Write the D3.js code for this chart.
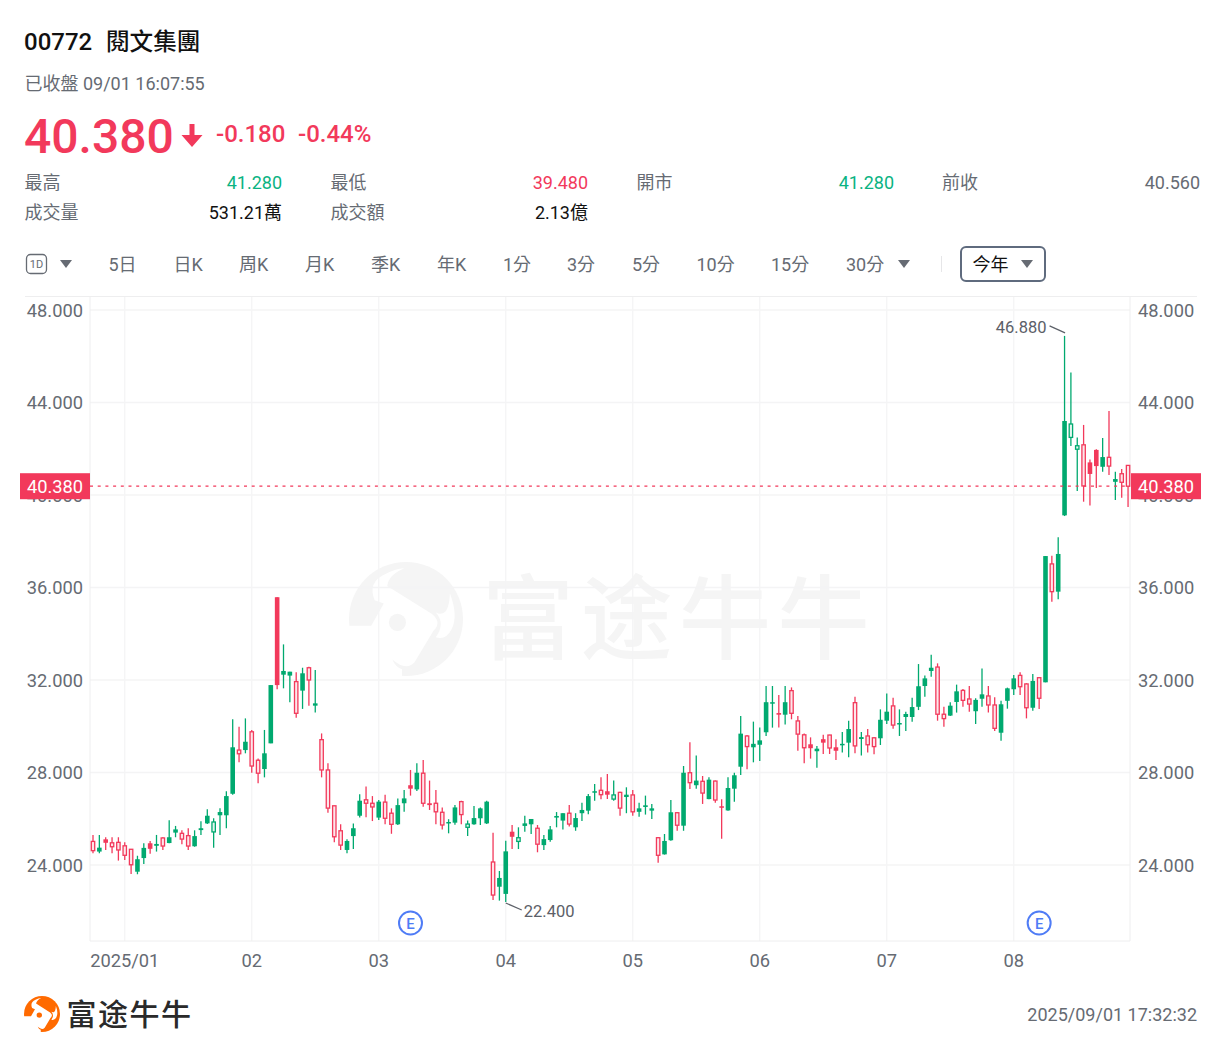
<!DOCTYPE html>
<html><head><meta charset="utf-8">
<script src="https://cdn.jsdelivr.net/npm/d3@7"></script>
<style>
html,body{margin:0;padding:0;background:#fff;overflow:hidden}
text{font-family:Roboto,"Noto Sans CJK TC","Noto Sans CJK SC",sans-serif}
</style></head><body><svg id="c" width="1221" height="1055"></svg>
<script>
// G/R = filled green/red, g/r = hollow green/red, one letter per session
const kinds = ["rGRrrrrGGR","GrGGrrGGGg","GGGrGrrGGR","GGrGrGrrrr","GGGrrGrrGG","RGrRrrGGrg","GGGrGGRgGG","rGGGGrGGGG","rRgrGrGGGr","GGrGrGrGrR","GGGrGGGGRG","rrrRGRrRGG","rGrrGGrGGG","GGGrrGGrrG","GrrGGGrrGr","GrGGggrRRG","rGrr"].join("");
const highs = [25.30,25.30,25.20,25.20,25.20,24.98,24.69,24.40,24.94,25.04,25.30,25.20,25.93,25.69,25.50,25.59,25.50,25.89,26.41,26.02,26.45,27.19,30.30,29.98,30.34,29.84,28.61,29.84,31.78,35.58,33.54,32.36,32.33,32.53,32.57,32.43,29.69,28.40,26.56,25.76,25.11,25.80,27.06,27.39,26.98,26.81,27.04,26.45,26.88,27.24,28.11,28.40,28.54,27.65,27.24,26.49,25.98,26.59,26.78,25.92,26.55,26.49,26.78,25.40,23.74,25.05,25.73,25.63,26.13,25.99,25.73,25.30,25.69,26.29,26.24,26.59,26.24,26.69,27.07,27.50,27.79,27.93,27.65,27.17,27.36,27.24,26.69,27.00,26.64,25.20,25.34,26.81,26.28,28.28,29.31,28.74,27.85,27.79,27.65,26.84,27.79,27.99,30.44,29.62,30.20,29.95,31.74,31.74,31.35,31.74,31.68,30.44,29.69,29.52,29.15,29.63,29.63,29.44,29.75,30.24,31.28,29.75,29.88,29.52,30.73,31.42,31.23,30.73,30.63,31.23,32.69,32.19,33.09,32.72,30.84,31.04,31.80,31.61,31.74,31.21,32.50,31.74,31.25,31.10,31.67,32.22,32.33,31.86,32.26,32.12,37.36,37.37,38.17,46.88,45.30,42.49,43.03,41.54,41.98,42.46,43.63,41.01,41.12,41.28];
const bodyTops = [25.02,24.75,25.11,24.96,24.98,24.83,24.68,24.25,24.74,24.94,24.91,25.17,25.20,25.54,25.37,25.27,25.25,25.59,26.13,25.86,26.29,26.98,29.09,28.97,29.33,29.76,28.53,28.83,31.78,35.58,32.39,32.36,31.93,32.29,32.53,30.99,29.42,28.11,26.56,25.48,25.04,25.59,26.78,26.82,26.67,26.74,26.72,26.24,26.59,26.88,27.45,27.99,27.97,26.67,26.67,26.28,25.86,26.49,26.74,25.77,26.03,26.45,26.74,24.13,23.44,24.59,25.44,25.18,25.80,25.99,25.59,25.12,25.54,26.12,26.24,26.24,26.03,26.38,26.98,27.19,27.23,27.19,27.03,27.14,27.04,27.03,26.45,26.58,26.45,25.18,25.04,26.28,26.26,27.99,27.99,27.65,27.62,27.69,27.63,26.54,27.33,27.88,29.68,29.58,29.24,29.39,31.04,31.04,30.57,31.04,31.54,30.23,29.63,29.22,29.03,29.44,29.62,29.09,29.24,29.88,31.02,29.53,29.58,29.50,30.28,30.63,30.88,30.14,30.53,30.83,31.73,32.07,32.53,32.56,30.52,30.89,31.51,31.55,31.18,31.14,31.38,31.31,30.92,30.95,31.64,32.07,32.20,31.83,31.96,32.10,37.36,37.02,37.45,43.20,43.07,42.13,42.17,41.41,41.95,41.64,41.63,40.69,40.92,41.28];
const bodyBottoms = [24.62,24.58,24.96,24.79,24.65,24.42,24.01,23.71,24.30,24.70,24.83,24.82,24.95,25.40,25.12,24.82,24.81,25.51,25.80,25.43,26.15,26.15,27.08,28.81,28.97,28.28,27.97,28.15,29.26,31.78,32.23,32.19,30.56,31.54,32.00,30.89,28.11,26.46,25.22,24.86,24.65,25.25,26.13,26.67,26.51,26.05,26.02,25.76,25.76,26.67,27.30,27.27,26.67,26.59,26.30,25.73,25.80,25.83,26.18,25.63,25.76,26.02,25.80,22.70,23.06,22.75,25.22,25.02,25.69,25.76,24.90,24.86,25.08,26.05,25.92,25.77,25.63,26.24,26.35,27.13,27.04,27.04,26.85,26.46,26.94,26.30,26.30,26.51,26.35,24.42,24.46,25.07,25.72,25.70,27.56,27.45,27.11,26.85,26.81,26.48,26.36,27.30,28.25,29.12,29.09,29.20,29.74,30.99,30.50,30.50,30.56,29.66,29.07,29.05,28.92,29.29,29.06,28.94,29.19,29.29,29.15,29.45,29.20,29.12,29.48,30.24,30.05,30.08,30.40,30.40,30.84,31.74,32.39,30.52,30.33,30.46,31.05,31.12,30.96,30.65,31.19,30.92,29.91,29.72,31.10,31.60,31.71,30.80,30.80,31.21,31.90,35.82,35.82,39.12,42.49,41.98,40.39,40.91,41.25,41.22,41.25,40.57,40.55,40.38];
const lows = [24.51,24.51,24.65,24.51,24.19,24.22,23.61,23.60,24.04,24.49,24.58,24.65,24.94,25.20,24.90,24.65,24.79,25.30,25.77,24.75,25.30,25.59,27.04,28.44,28.83,27.99,27.53,27.79,29.26,31.60,31.64,31.04,30.37,30.75,30.89,30.59,27.79,26.26,24.98,24.65,24.51,24.69,26.05,26.06,25.90,25.95,25.76,25.35,25.73,26.30,27.00,27.20,26.52,26.38,25.76,25.54,25.37,25.74,25.76,25.25,25.74,25.73,25.77,22.49,22.46,22.40,24.69,24.69,25.44,25.34,24.55,24.65,25.01,25.63,25.54,25.66,25.48,25.90,26.19,26.78,26.84,26.85,26.78,26.13,26.24,26.13,26.09,26.18,25.99,24.10,24.45,25.05,25.48,25.48,27.29,27.30,26.64,26.84,26.69,25.14,26.35,26.74,27.89,28.14,28.44,28.50,29.58,29.94,29.95,30.08,30.30,28.94,28.40,28.60,28.21,28.80,28.80,28.54,28.86,28.66,28.83,28.74,28.86,28.79,29.19,30.10,29.89,29.58,29.79,30.20,30.70,31.28,32.14,30.24,29.98,30.44,30.59,30.84,30.63,30.10,30.84,30.59,29.79,29.37,30.76,31.35,31.35,30.34,30.67,30.75,31.90,35.38,35.49,39.09,42.12,40.17,39.71,39.55,40.30,41.01,40.86,39.78,39.88,39.48];

const priceTicks = [24,28,32,36,40,44,48];
const monthSessions = [5,25,45,65,85,105,125,145];
const monthLabels = ["2025/01","02","03","04","05","06","07","08"];
const earningsSessions = [50,149];
const lastClose = 40.38, peakHigh = 46.88, troughLow = 22.40;
const peakSession = 153, troughSession = 65;
const tabLabels = ["5日","日K","周K","月K","季K","年K","1分","3分","5分","10分","15分","30分"];
const tabPositions = [108.5,173.5,239,305,371,437,503,567,632,696.5,771,846];
const statLabels = [["最高","最低","開市","前收"],["成交量","成交額"]];
const statValues = [["41.280","39.480","41.280","40.560"],["531.21萬","2.13億"]];

const RED="#f2395b", GREEN="#00a96f", GREY="#666b73", DARK="#111", GRID="#f4f4f5";
const svg=d3.select("#c");
const x=d3.scaleLinear().domain([0,163]).range([93,1128.05]);
const y=d3.scaleLinear().domain([24,48]).range([865,310]);
const L=90,R=1130,T=296,B=941;
const txt=(px,py,s,size,fill,opt={})=>svg.append("text").attr("x",px).attr("y",py).text(s)
  .attr("font-size",size).attr("fill",fill).attr("text-anchor",opt.a||"start")
  .attr("font-weight",opt.w||400).attr("dominant-baseline","alphabetic");

// header
txt(24,50,"00772",24,DARK,{w:500});
txt(106,50,"閱文集團",23.6,DARK,{w:500});
txt(24.5,90,"已收盤 09/01 16:07:55",18,GREY);
txt(24,153,"40.380",48,RED,{w:500});
svg.append("path").attr("d","M189.5 124h5v11h8l-10.5 12-10.5-12h8z").attr("fill",RED);
txt(216,142,"-0.180",24,RED,{w:500});
txt(298,142,"-0.44%",24,RED,{w:500});
const colX=[24.5,330.5,636.5,942], valX=[282,588,894,1200], rowY=[189,218.5];
statLabels.forEach((row,r)=>row.forEach((s,i)=>txt(colX[i],rowY[r],s,18,GREY)));
const statColors=[["#0ab382",RED,"#0ab382",GREY],[DARK,DARK]];
statValues.forEach((row,r)=>row.forEach((s,i)=>txt(valX[i],rowY[r],s,18,statColors[r][i],{a:"end"})));

// tab bar
svg.append("rect").attr("x",26.5).attr("y",254.5).attr("width",20).attr("height",19).attr("rx",4).attr("fill","none").attr("stroke",GREY).attr("stroke-width",1.3);
txt(36.5,268,"1D",11,GREY,{a:"middle"});
const tri=(cx,cy)=>svg.append("path").attr("d",`M${cx-6} ${cy-4}h12l-6 8z`).attr("fill",GREY);
tri(66,264);
tabLabels.forEach((s,i)=>txt(tabPositions[i],270.5,s,18,GREY));
tri(904,264);
svg.append("line").attr("x1",941.5).attr("x2",941.5).attr("y1",256).attr("y2",272).attr("stroke","#e6e6e8");
svg.append("rect").attr("x",961).attr("y",247).attr("width",84).attr("height",34).attr("rx",5).attr("fill","#fff").attr("stroke","#5f6b7e").attr("stroke-width",2);
txt(972.5,270.5,"今年",18,DARK);
tri(1027,264);

// logo
function logo(cx,cy,r,color){
  const g=svg.append("g").attr("transform",`translate(${cx},${cy}) scale(${r/100})`);
  g.append("circle").attr("r",100).attr("fill",color);
  g.append("path").attr("fill","#fff").attr("d","M-100 12L-61 12L-39 -27L-55 -33Q-68 -65 -36 -79Q-20 -88 -3 -89Q-30 -78 -33 -58L45 -9Q64 6 48 21L15 76Q0 92 -24 71Q-18 85 -7 88L-7 108L-70 112L-112 60Z");
  g.append("path").attr("fill","#fff").attr("d","M77 -45Q76 -15 65 -10Q58 -8 52 -12Q70 8 52 32Q70 38 80 18Q92 -5 77 -45Z");
  g.append("circle").attr("cx",-15).attr("cy",6).attr("r",15).attr("fill",color);
}
logo(406,619,57,"#f5f5f5");
txt(482,652,"富途牛牛",92,"#f5f5f5",{w:500}).attr("letter-spacing",6.5).style("font-family",'"Noto Sans CJK SC"');

// grid
const grid=svg.append("g").attr("stroke",GRID).attr("stroke-width",1.3);
priceTicks.forEach(v=>grid.append("line").attr("x1",L).attr("x2",R).attr("y1",y(v)).attr("y2",y(v)));
monthSessions.forEach(i=>grid.append("line").attr("x1",x(i)).attr("x2",x(i)).attr("y1",T).attr("y2",B));
svg.append("line").attr("x1",25).attr("x2",1197).attr("y1",296.5).attr("y2",296.5).attr("stroke","#eeeeef");
svg.append("line").attr("x1",L).attr("x2",R).attr("y1",941).attr("y2",941).attr("stroke","#eeeeef");
[L,R].forEach(v=>svg.append("line").attr("x1",v).attr("x2",v).attr("y1",T).attr("y2",B).attr("stroke","#eeeeef"));

// axes
const fmt=d3.format(".3f");
const styleAxis=g=>{g.select(".domain").remove();g.selectAll("line").remove();g.selectAll("text").attr("font-size",18.3).attr("fill",GREY).attr("font-family",'Roboto,sans-serif');};
svg.append("g").attr("transform",`translate(83,0.5)`).call(d3.axisLeft(y).tickValues(priceTicks).tickFormat(fmt).tickSize(0).tickPadding(0)).call(styleAxis);
svg.append("g").attr("transform",`translate(1138,0.5)`).call(d3.axisRight(y).tickValues(priceTicks).tickFormat(fmt).tickSize(0).tickPadding(0)).call(styleAxis);
svg.append("g").attr("transform",`translate(-0.5,954)`).call(d3.axisBottom(x).tickValues(monthSessions).tickFormat((d,i)=>monthLabels[i]).tickSize(0).tickPadding(0)).call(styleAxis);

// candles
const candles=d3.range(highs.length).map(i=>({i,k:kinds[i],h:highs[i],t:bodyTops[i],b:bodyBottoms[i],l:lows[i]}));
const cg=svg.append("g").selectAll("g").data(candles).join("g");
const col=d=>/r/i.test(d.k)?RED:GREEN;
const solid=d=>d.k===d.k.toUpperCase();
cg.append("line").attr("x1",d=>x(d.i)).attr("x2",d=>x(d.i)).attr("y1",d=>y(d.h)).attr("y2",d=>y(d.l)).attr("stroke",col).attr("stroke-width",1.3);
cg.append("rect")
  .attr("x",d=>x(d.i)-(solid(d)?2.3:1.7))
  .attr("width",d=>solid(d)?4.6:3.4)
  .attr("y",d=>y(d.t))
  .attr("height",d=>Math.max(y(d.b)-y(d.t),1.5))
  .attr("fill",d=>solid(d)?col(d):(d.k==="r"?"#fde6ea":"#e2f6ef"))
  .attr("stroke",d=>solid(d)?"none":col(d))
  .attr("stroke-width",1.3);

// last price line and tags
svg.append("line").attr("x1",L).attr("x2",R).attr("y1",y(lastClose)).attr("y2",y(lastClose)).attr("stroke",RED).attr("stroke-width",1.3).attr("stroke-dasharray","3,4.7");
[[20,55],[1131,1166]].forEach(([rx,tx])=>{
  svg.append("rect").attr("x",rx).attr("y",y(lastClose)-13).attr("width",70).attr("height",26).attr("fill",RED);
  txt(tx,y(lastClose)+7,fmt(lastClose),18.3,"#fff",{a:"middle"});
});

// extreme labels
svg.append("line").attr("x1",x(peakSession)+0.5).attr("x2",x(peakSession)-15).attr("y1",y(peakHigh)-3).attr("y2",y(peakHigh)-10).attr("stroke","#5c6068").attr("stroke-width",1.2);
txt(x(peakSession)-18,y(peakHigh)-3,fmt(peakHigh),16.5,"#5c6068",{a:"end"});
svg.append("line").attr("x1",x(troughSession)).attr("x2",x(troughSession)+16).attr("y1",y(troughLow)+1).attr("y2",y(troughLow)+8).attr("stroke","#5c6068").attr("stroke-width",1.2);
txt(x(troughSession)+18,y(troughLow)+15,fmt(troughLow),16.5,"#5c6068");

// earnings markers
earningsSessions.forEach(i=>{
  const g=svg.append("g").attr("transform",`translate(${x(i)},923)`);
  g.append("circle").attr("r",11.5).attr("fill","#fff").attr("stroke","#4f7cf6").attr("stroke-width",2);
  g.append("text").attr("text-anchor","middle").attr("y",5.5).attr("font-size",15).attr("font-weight",500).attr("fill","#4f7cf6").text("E");
});

// footer
logo(42,1014,18,"#ff6a00");
txt(66.5,1025,"富途牛牛",30,"#2a2a2a",{w:500}).attr("letter-spacing",1.5).style("font-family",'"Noto Sans CJK SC"');
txt(1197,1021,"2025/09/01 17:32:32",18,GREY,{a:"end"});
</script></body></html>
